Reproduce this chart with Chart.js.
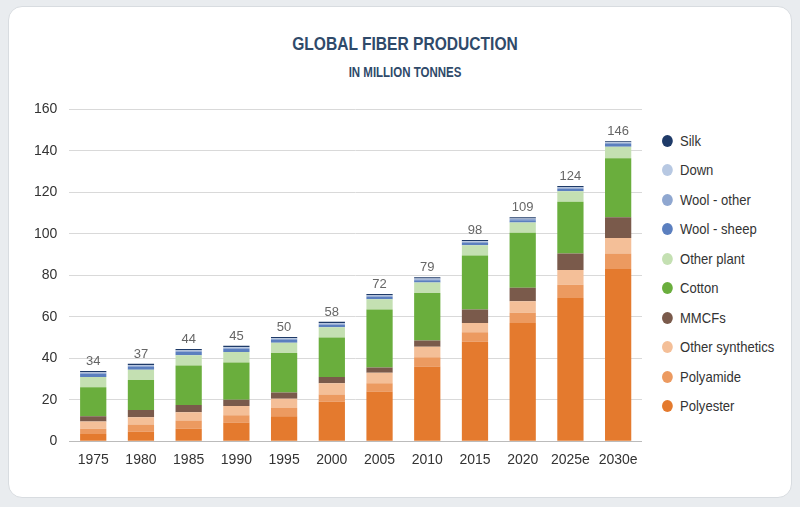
<!DOCTYPE html>
<html>
<head>
<meta charset="utf-8">
<script src="https://cdn.jsdelivr.net/npm/chart.js@4"></script>
<style>
  body { margin: 0; background: #e9ecef; font-family: "Liberation Sans", sans-serif; }
  #card { position: absolute; left: 8px; top: 6px; width: 782px; height: 490px; background: #fff; border-radius: 14px; border: 1px solid #d8dce0; }
  #title { position: absolute; left: 205px; width: 400px; top: 33px; text-align: center; color: #2f4a6a; font-weight: bold; font-size: 19px; transform: scaleX(0.82); }
  #sub { position: absolute; left: 205px; width: 400px; top: 64px; text-align: center; color: #2f4a6a; font-weight: bold; font-size: 14px; transform: scaleX(0.82); }
  #wrap { position: absolute; left: 22px; top: 89px; width: 620px; height: 383px; }
  #legend { position: absolute; left: 662px; top: 126px; font-size: 14.5px; color: #333; }
  .item { height: 29.5px; display: flex; align-items: center; transform-origin: left center; }
  .dot { width: 12px; height: 12px; border-radius: 50%; margin-right: 8px; }
</style>
</head>
<body>
<div id="card"></div>
<div id="title">GLOBAL FIBER PRODUCTION</div>
<div id="sub">IN MILLION TONNES</div>
<div id="wrap"><canvas id="c"></canvas></div>
<div id="legend"></div>
<script>
const years = ["1975", "1980", "1985", "1990", "1995", "2000", "2005", "2010", "2015", "2020", "2025e", "2030e"]
const totals = [34, 37, 44, 45, 50, 58, 72, 79, 98, 109, 124, 146]

const polyester = [3.5, 4.5, 6, 9, 12, 19, 24, 36, 48, 57, 69, 83]
const polyamide = [2.5, 3.5, 4, 3.5, 4, 3.5, 4, 4.5, 4.5, 5, 6.5, 7.5]
const otherSynthetics = [3.5, 3.5, 4, 4.5, 4.5, 5.5, 5, 5, 4.5, 5.5, 7, 7.5]
const mmcfs = [2.5, 3.5, 3.5, 3, 3, 3, 2.5, 3, 6.5, 6.5, 8, 10]
const cotton = [14, 14.5, 19, 18, 19, 19, 28, 23, 26, 26.5, 25, 28.5]
const otherPlant = [5, 5, 5, 5, 5, 5, 5, 5, 5, 5, 5, 5.5]
const woolSheep = [1.5, 1.5, 1.6, 1.6, 1.3, 1.2, 1.1, 1.1, 1.1, 1.1, 1.2, 1.3]
const woolOther = [0.5, 0.5, 0.5, 0.5, 0.5, 0.5, 0.5, 0.5, 0.5, 0.5, 0.5, 0.5]
const down = [0.3, 0.3, 0.3, 0.3, 0.3, 0.3, 0.3, 0.3, 0.3, 0.3, 0.3, 0.3]
const silk = [0.6, 0.6, 0.6, 0.6, 0.6, 0.6, 0.6, 0.6, 0.6, 0.6, 0.6, 0.6]

const series = [
    { label: "Polyester", data: polyester, color: "#e47a2e" },
    { label: "Polyamide", data: polyamide, color: "#ec9a60" },
    { label: "Other synthetics", data: otherSynthetics, color: "#f4bf98" },
    { label: "MMCFs", data: mmcfs, color: "#7a5a4b" },
    { label: "Cotton", data: cotton, color: "#6aae3d" },
    { label: "Other plant", data: otherPlant, color: "#c4e0b2" },
    { label: "Wool - sheep", data: woolSheep, color: "#5b7fbf" },
    { label: "Wool - other", data: woolOther, color: "#8fa7d0" },
    { label: "Down", data: down, color: "#b7c8e2" },
    { label: "Silk", data: silk, color: "#1e3a68" }
]

const legend = document.querySelector("#legend")
series.slice().reverse().forEach(s => {
    legend.innerHTML += `<div class="item" style="transform:scaleX(0.9)"><span class="dot" style="background:${s.color}"></span>${s.label}</div>`
})

const totalLabels = {
    id: "totalLabels",
    afterDatasetsDraw(chart) {
        const ctx = chart.ctx
        const meta = chart.getDatasetMeta(series.length - 1)
        ctx.save()
        ctx.fillStyle = "#666"
        ctx.font = "13px 'Liberation Sans', sans-serif"
        ctx.textAlign = "center"
        ctx.textBaseline = "bottom"
        meta.data.forEach((bar, i) => ctx.fillText(totals[i], bar.x, bar.y - 3))
        ctx.restore()
    }
}

new Chart(document.querySelector("#c"), {
    type: "bar",
    data: {
        labels: years,
        datasets: series.map(s => ({
            label: s.label,
            data: s.data,
            backgroundColor: s.color,
            categoryPercentage: 0.55,
            barPercentage: 1
        }))
    },
    options: {
        responsive: true,
        maintainAspectRatio: false,
        animation: false,
        plugins: { legend: { display: false }, tooltip: { enabled: false } },
        scales: {
            x: {
                stacked: true,
                grid: { display: false },
                border: { color: "#bbb" },
                ticks: { color: "#333", font: { size: 14 } }
            },
            y: {
                stacked: true,
                min: 0, max: 160,
                ticks: { stepSize: 20, color: "#333", padding: 12, font: { size: 14 } },
                grid: { color: "#d9d9d9", drawTicks: false },
                border: { display: false }
            }
        }
    },
    plugins: [totalLabels]
})
</script>
</body>
</html>
